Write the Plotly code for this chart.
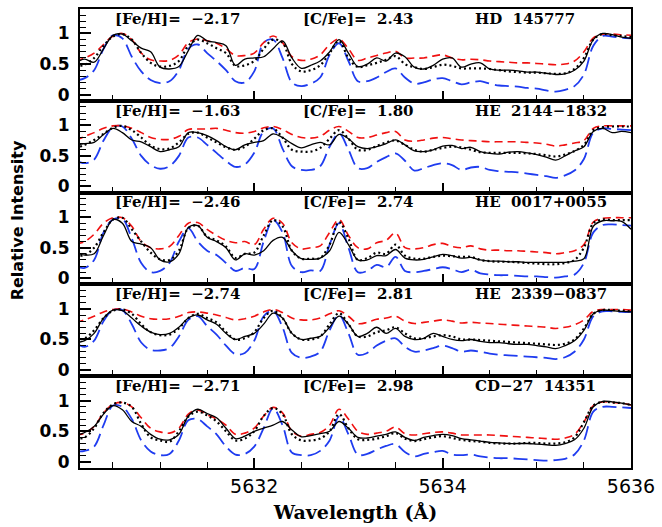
import plotly.graph_objects as go
from plotly.subplots import make_subplots

wavelength = [5630.1, 5630.2, 5630.3, 5630.4, 5630.5, 5630.6, 5630.7, 5630.8, 5630.9, 5631.0,
              5631.1, 5631.2, 5631.3, 5631.4, 5631.5, 5631.6, 5631.7, 5631.8, 5631.9, 5632.0,
              5632.1, 5632.2, 5632.3, 5632.4, 5632.5, 5632.6, 5632.7, 5632.8, 5632.9, 5633.0,
              5633.1, 5633.2, 5633.3, 5633.4, 5633.5, 5633.6, 5633.7, 5633.8, 5633.9, 5634.0,
              5634.1, 5634.2, 5634.3, 5634.4, 5634.5, 5634.6, 5634.7, 5634.8, 5634.9, 5635.0,
              5635.1, 5635.2, 5635.3, 5635.4, 5635.5, 5635.6, 5635.7, 5635.8, 5635.9, 5636.0]

stars = ["HD 145777", "HE 2144\u22121832", "HE 0017+0055", "HE 2339\u22120837", "CD\u221227 14351"]
feh = ["\u22122.17", "\u22121.63", "\u22122.46", "\u22122.74", "\u22122.71"]
cfe = ["2.43", "1.80", "2.74", "2.81", "2.98"]

# ---- HD 145777 ----
hd145777_obs = [0.52, 0.58, 0.53, 0.75, 0.97, 0.99, 0.88, 0.76, 0.70, 0.45,
                0.42, 0.46, 0.72, 0.97, 0.88, 0.85, 0.80, 0.48, 0.58, 0.60,
                0.62, 0.75, 0.88, 0.60, 0.43, 0.48, 0.55, 0.70, 0.90, 0.68,
                0.46, 0.50, 0.60, 0.55, 0.68, 0.62, 0.45, 0.42, 0.48, 0.58,
                0.60, 0.45, 0.50, 0.52, 0.42, 0.40, 0.40, 0.39, 0.37, 0.37,
                0.35, 0.33, 0.34, 0.40, 0.55, 0.90, 1.00, 0.98, 0.94, 0.92]
hd145777_dot = [0.47, 0.49, 0.60, 0.80, 0.95, 0.99, 0.90, 0.68, 0.52, 0.46,
                0.47, 0.55, 0.80, 0.90, 0.84, 0.76, 0.68, 0.47, 0.48, 0.55,
                0.75, 0.90, 0.85, 0.50, 0.38, 0.40, 0.48, 0.68, 0.88, 0.60,
                0.45, 0.48, 0.52, 0.57, 0.63, 0.50, 0.45, 0.42, 0.45, 0.49,
                0.47, 0.43, 0.43, 0.43, 0.42, 0.40, 0.38, 0.37, 0.36, 0.36,
                0.35, 0.34, 0.35, 0.42, 0.60, 0.90, 0.99, 0.97, 0.96, 0.94]
hd145777_red = [0.55, 0.60, 0.68, 0.82, 0.96, 1.00, 0.90, 0.68, 0.57, 0.55,
                0.56, 0.65, 0.85, 0.91, 0.88, 0.84, 0.75, 0.64, 0.64, 0.68,
                0.85, 0.96, 0.85, 0.62, 0.56, 0.58, 0.65, 0.82, 0.91, 0.75,
                0.56, 0.60, 0.64, 0.68, 0.71, 0.60, 0.60, 0.60, 0.63, 0.65,
                0.60, 0.57, 0.58, 0.57, 0.55, 0.54, 0.53, 0.52, 0.52, 0.51,
                0.50, 0.49, 0.50, 0.55, 0.70, 0.93, 0.99, 0.99, 0.98, 0.97]
hd145777_blue = [0.23, 0.27, 0.40, 0.75, 0.97, 0.92, 0.62, 0.38, 0.24, 0.19,
                 0.22, 0.40, 0.75, 0.82, 0.68, 0.55, 0.40, 0.22, 0.20, 0.38,
                 0.85, 0.90, 0.60, 0.20, 0.14, 0.18, 0.28, 0.65, 0.84, 0.55,
                 0.22, 0.22, 0.28, 0.37, 0.43, 0.28, 0.18, 0.20, 0.25, 0.27,
                 0.22, 0.17, 0.20, 0.22, 0.18, 0.15, 0.14, 0.13, 0.11, 0.10,
                 0.07, 0.05, 0.08, 0.14, 0.33, 0.80, 0.96, 0.95, 0.93, 0.92]

# ---- HE 2144-1832 ----
he2144_obs = [0.68, 0.70, 0.72, 0.85, 0.95, 0.88, 0.76, 0.73, 0.65, 0.57,
              0.60, 0.65, 0.88, 0.88, 0.83, 0.75, 0.65, 0.60, 0.68, 0.72,
              0.75, 0.86, 0.80, 0.70, 0.63, 0.68, 0.72, 0.68, 0.85, 0.78,
              0.65, 0.62, 0.65, 0.70, 0.76, 0.68, 0.58, 0.57, 0.60, 0.66,
              0.67, 0.62, 0.64, 0.57, 0.54, 0.53, 0.56, 0.57, 0.55, 0.52,
              0.48, 0.43, 0.50, 0.58, 0.65, 0.90, 0.95, 0.88, 0.90, 0.88]
he2144_dot = [0.62, 0.68, 0.76, 0.86, 0.96, 0.99, 0.92, 0.80, 0.67, 0.61,
              0.62, 0.72, 0.86, 0.88, 0.80, 0.72, 0.64, 0.60, 0.65, 0.78,
              0.92, 0.95, 0.80, 0.60, 0.57, 0.57, 0.63, 0.78, 0.92, 0.78,
              0.60, 0.60, 0.66, 0.72, 0.75, 0.68, 0.60, 0.57, 0.60, 0.63,
              0.65, 0.64, 0.60, 0.56, 0.55, 0.55, 0.55, 0.55, 0.54, 0.53,
              0.51, 0.49, 0.52, 0.58, 0.68, 0.92, 0.97, 0.98, 0.98, 0.98]
he2144_red = [0.75, 0.82, 0.88, 0.95, 0.99, 0.99, 0.95, 0.88, 0.80, 0.77,
              0.77, 0.82, 0.93, 0.94, 0.94, 0.95, 0.92, 0.88, 0.87, 0.90,
              0.96, 0.98, 0.93, 0.85, 0.80, 0.79, 0.82, 0.92, 0.98, 0.90,
              0.80, 0.80, 0.84, 0.88, 0.90, 0.76, 0.74, 0.76, 0.79, 0.80,
              0.78, 0.76, 0.75, 0.74, 0.73, 0.73, 0.73, 0.73, 0.72, 0.71,
              0.69, 0.66, 0.68, 0.71, 0.75, 0.95, 0.99, 0.99, 0.99, 0.99]
he2144_blue = [0.43, 0.38, 0.44, 0.75, 0.97, 0.98, 0.78, 0.50, 0.35, 0.29,
               0.33, 0.50, 0.80, 0.80, 0.68, 0.55, 0.42, 0.32, 0.36, 0.55,
               0.90, 0.95, 0.62, 0.33, 0.27, 0.27, 0.33, 0.65, 0.87, 0.60,
               0.30, 0.30, 0.40, 0.48, 0.54, 0.42, 0.26, 0.30, 0.35, 0.38,
               0.35, 0.27, 0.31, 0.32, 0.27, 0.25, 0.24, 0.23, 0.21, 0.19,
               0.17, 0.14, 0.18, 0.26, 0.45, 0.88, 0.95, 0.94, 0.93, 0.92]

# ---- HE 0017+0055 ----
he0017_obs = [0.42, 0.38, 0.40, 0.70, 0.96, 0.90, 0.60, 0.56, 0.50, 0.30,
              0.27, 0.40, 0.83, 0.86, 0.67, 0.60, 0.50, 0.30, 0.40, 0.38,
              0.45, 0.62, 0.67, 0.45, 0.32, 0.31, 0.33, 0.45, 0.75, 0.55,
              0.30, 0.30, 0.37, 0.37, 0.47, 0.33, 0.30, 0.31, 0.35, 0.39,
              0.37, 0.33, 0.34, 0.30, 0.28, 0.28, 0.27, 0.27, 0.26, 0.26,
              0.26, 0.26, 0.26, 0.28, 0.32, 0.85, 0.94, 0.94, 0.93, 0.80]
he0017_dot = [0.37, 0.38, 0.50, 0.75, 0.96, 0.99, 0.80, 0.60, 0.42, 0.31,
              0.30, 0.45, 0.82, 0.86, 0.68, 0.62, 0.52, 0.33, 0.40, 0.42,
              0.70, 0.95, 0.85, 0.45, 0.32, 0.32, 0.33, 0.55, 0.92, 0.65,
              0.30, 0.33, 0.42, 0.40, 0.55, 0.37, 0.32, 0.32, 0.35, 0.37,
              0.36, 0.35, 0.35, 0.30, 0.28, 0.27, 0.27, 0.26, 0.25, 0.24,
              0.23, 0.23, 0.25, 0.30, 0.50, 0.90, 0.96, 0.95, 0.95, 0.95]
he0017_red = [0.56, 0.60, 0.72, 0.90, 0.99, 0.99, 0.85, 0.60, 0.50, 0.48,
              0.52, 0.70, 0.90, 0.91, 0.80, 0.70, 0.62, 0.58, 0.60, 0.55,
              0.80, 0.98, 0.90, 0.58, 0.48, 0.50, 0.53, 0.75, 0.96, 0.70,
              0.50, 0.48, 0.58, 0.62, 0.74, 0.50, 0.48, 0.50, 0.55, 0.57,
              0.52, 0.50, 0.53, 0.48, 0.46, 0.46, 0.45, 0.45, 0.44, 0.43,
              0.42, 0.40, 0.42, 0.45, 0.55, 0.92, 0.98, 0.99, 0.99, 0.99]
he0017_blue = [0.20, 0.17, 0.30, 0.75, 0.96, 0.97, 0.65, 0.25, 0.10, 0.12,
               0.25, 0.60, 0.82, 0.60, 0.45, 0.38, 0.25, 0.12, 0.17, 0.15,
               0.60, 0.95, 0.75, 0.20, 0.10, 0.13, 0.12, 0.55, 0.90, 0.50,
               0.10, 0.12, 0.22, 0.18, 0.35, 0.12, 0.10, 0.12, 0.15, 0.18,
               0.15, 0.10, 0.14, 0.08, 0.06, 0.05, 0.05, 0.04, 0.03, 0.03,
               0.02, 0.01, 0.03, 0.06, 0.25, 0.75, 0.87, 0.88, 0.87, 0.86]

# ---- HE 2339-0837 ----
he2339_obs = [0.45, 0.48, 0.60, 0.85, 0.98, 0.97, 0.85, 0.72, 0.62, 0.58,
              0.60, 0.70, 0.85, 0.90, 0.82, 0.75, 0.60, 0.50, 0.55, 0.60,
              0.75, 0.93, 0.85, 0.60, 0.50, 0.52, 0.55, 0.70, 0.88, 0.75,
              0.55, 0.60, 0.70, 0.60, 0.68, 0.55, 0.50, 0.52, 0.60, 0.55,
              0.50, 0.48, 0.50, 0.47, 0.45, 0.45, 0.43, 0.42, 0.42, 0.40,
              0.38, 0.35, 0.40, 0.48, 0.65, 0.92, 0.98, 0.97, 0.96, 0.95]
he2339_dot = [0.50, 0.52, 0.65, 0.85, 0.97, 0.99, 0.92, 0.75, 0.62, 0.57,
              0.58, 0.68, 0.85, 0.92, 0.85, 0.78, 0.62, 0.50, 0.52, 0.62,
              0.85, 0.97, 0.85, 0.60, 0.50, 0.50, 0.55, 0.75, 0.93, 0.75,
              0.55, 0.55, 0.62, 0.65, 0.70, 0.60, 0.52, 0.52, 0.55, 0.57,
              0.55, 0.50, 0.50, 0.49, 0.48, 0.47, 0.46, 0.45, 0.44, 0.43,
              0.42, 0.41, 0.43, 0.50, 0.68, 0.92, 0.98, 0.98, 0.97, 0.96]
he2339_red = [0.78, 0.82, 0.88, 0.95, 0.99, 1.00, 0.95, 0.88, 0.84, 0.83,
              0.84, 0.88, 0.94, 0.95, 0.93, 0.90, 0.86, 0.82, 0.84, 0.88,
              0.95, 0.99, 0.94, 0.85, 0.82, 0.82, 0.85, 0.92, 0.97, 0.88,
              0.76, 0.78, 0.83, 0.85, 0.88, 0.80, 0.76, 0.78, 0.80, 0.82,
              0.80, 0.77, 0.78, 0.77, 0.76, 0.75, 0.74, 0.73, 0.72, 0.71,
              0.70, 0.68, 0.70, 0.74, 0.82, 0.96, 0.99, 0.99, 0.99, 0.98]
he2339_blue = [0.45, 0.38, 0.48, 0.80, 0.98, 0.98, 0.75, 0.45, 0.33, 0.32,
               0.36, 0.55, 0.82, 0.88, 0.72, 0.58, 0.40, 0.26, 0.28, 0.48,
               0.88, 0.97, 0.70, 0.28, 0.20, 0.22, 0.30, 0.65, 0.90, 0.60,
               0.25, 0.28, 0.40, 0.48, 0.52, 0.38, 0.30, 0.32, 0.36, 0.40,
               0.36, 0.30, 0.32, 0.30, 0.27, 0.25, 0.24, 0.23, 0.22, 0.21,
               0.20, 0.18, 0.21, 0.30, 0.50, 0.88, 0.96, 0.96, 0.95, 0.95]

# ---- CD-27 14351 ----
cd27_obs = [0.43, 0.48, 0.58, 0.78, 0.92, 0.85, 0.66, 0.58, 0.45, 0.37,
            0.36, 0.45, 0.75, 0.86, 0.79, 0.72, 0.55, 0.38, 0.42, 0.50,
            0.55, 0.60, 0.66, 0.52, 0.41, 0.43, 0.46, 0.50, 0.66, 0.55,
            0.40, 0.39, 0.42, 0.45, 0.49, 0.40, 0.35, 0.40, 0.43, 0.45,
            0.43, 0.38, 0.36, 0.34, 0.32, 0.31, 0.30, 0.30, 0.30, 0.29,
            0.28, 0.27, 0.30, 0.36, 0.55, 0.90, 0.99, 0.98, 0.96, 0.93]
cd27_dot = [0.38, 0.40, 0.55, 0.80, 0.94, 0.97, 0.90, 0.62, 0.40, 0.35,
            0.33, 0.50, 0.74, 0.82, 0.76, 0.66, 0.50, 0.35, 0.38, 0.50,
            0.75, 0.88, 0.78, 0.45, 0.35, 0.35, 0.38, 0.50, 0.78, 0.55,
            0.37, 0.36, 0.38, 0.42, 0.47, 0.38, 0.34, 0.37, 0.40, 0.42,
            0.39, 0.36, 0.34, 0.33, 0.31, 0.30, 0.30, 0.30, 0.31, 0.31,
            0.30, 0.30, 0.32, 0.40, 0.65, 0.92, 0.98, 0.97, 0.96, 0.93]
cd27_red = [0.44, 0.47, 0.58, 0.80, 0.94, 0.97, 0.90, 0.72, 0.55, 0.49,
            0.47, 0.55, 0.78, 0.85, 0.77, 0.70, 0.60, 0.45, 0.47, 0.55,
            0.75, 0.89, 0.80, 0.50, 0.42, 0.45, 0.48, 0.60, 0.86, 0.70,
            0.50, 0.45, 0.47, 0.50, 0.57, 0.46, 0.44, 0.46, 0.48, 0.49,
            0.47, 0.44, 0.44, 0.44, 0.44, 0.43, 0.42, 0.41, 0.40, 0.39,
            0.38, 0.37, 0.39, 0.45, 0.65, 0.92, 0.98, 0.97, 0.96, 0.93]
cd27_blue = [0.17, 0.18, 0.25, 0.60, 0.92, 0.90, 0.70, 0.35, 0.17, 0.11,
             0.13, 0.35, 0.68, 0.70, 0.58, 0.45, 0.25, 0.12, 0.13, 0.25,
             0.55, 0.88, 0.60, 0.15, 0.11, 0.11, 0.18, 0.35, 0.74, 0.45,
             0.12, 0.13, 0.20, 0.26, 0.29, 0.16, 0.09, 0.13, 0.16, 0.18,
             0.12, 0.11, 0.12, 0.09, 0.07, 0.06, 0.06, 0.05, 0.04, 0.03,
             0.02, 0.03, 0.05, 0.12, 0.35, 0.82, 0.90, 0.90, 0.89, 0.88]

panels = [
    (hd145777_obs, hd145777_dot, hd145777_red, hd145777_blue),
    (he2144_obs, he2144_dot, he2144_red, he2144_blue),
    (he0017_obs, he0017_dot, he0017_red, he0017_blue),
    (he2339_obs, he2339_dot, he2339_red, he2339_blue),
    (cd27_obs, cd27_dot, cd27_red, cd27_blue),
]

fig = make_subplots(rows=5, cols=1, shared_xaxes=True, vertical_spacing=0)

for i, (obs, dot, red, blue) in enumerate(panels):
    r = i + 1
    fig.add_trace(go.Scatter(x=wavelength, y=blue, mode="lines", line_shape="spline",
                             line=dict(color="#1f3cf0", width=1.8, dash="14px,6px")),
                  row=r, col=1)
    fig.add_trace(go.Scatter(x=wavelength, y=red, mode="lines", line_shape="spline",
                             line=dict(color="#f01010", width=1.6, dash="8px,5px")),
                  row=r, col=1)
    fig.add_trace(go.Scatter(x=wavelength, y=dot, mode="lines", line_shape="spline",
                             line=dict(color="black", width=2.2, dash="2px,3px")),
                  row=r, col=1)
    fig.add_trace(go.Scatter(x=wavelength, y=obs, mode="lines", line_shape="spline",
                             line=dict(color="black", width=1.3)),
                  row=r, col=1)

    xr = "x" if r == 1 else f"x{r}"
    yr = "y" if r == 1 else f"y{r}"
    afont = dict(family="DejaVu Serif", size=15, color="black", weight="bold")
    fig.add_annotation(x=5630.50, y=1.24, xref=xr, yref=yr, xanchor="left", yanchor="middle",
                       text=f"[Fe/H]=\u00a0\u00a0{feh[i]}", showarrow=False, font=afont)
    fig.add_annotation(x=5632.50, y=1.24, xref=xr, yref=yr, xanchor="left", yanchor="middle",
                       text=f"[C/Fe]=\u00a0\u00a0{cfe[i]}", showarrow=False, font=afont)
    fig.add_annotation(x=5634.32, y=1.24, xref=xr, yref=yr, xanchor="left", yanchor="middle",
                       text=stars[i].replace(" ", "\u00a0\u00a0"), showarrow=False, font=afont)

    fig.update_yaxes(row=r, col=1, range=[-0.1, 1.4], tickmode="array", tickvals=[0, 0.5, 1],
                     ticktext=["0", "0.5", "1"], ticks="inside", ticklen=11, tickwidth=1.5,
                     tickcolor="black", showline=True, linecolor="black", linewidth=2.2,
                     mirror=True, showgrid=False, zeroline=False,
                     tickfont=dict(family="DejaVu Sans", size=17, color="black", weight="bold"),
                     ticklabelstandoff=5,
                     minor=dict(tickmode="array",
                                tickvals=[-0.1, 0.1, 0.2, 0.3, 0.4, 0.6, 0.7, 0.8, 0.9, 1.1, 1.2, 1.3],
                                ticks="inside", ticklen=6, tickwidth=1.2, tickcolor="black",
                                showgrid=False))
    fig.update_xaxes(row=r, col=1, range=[5630.15, 5636], tickmode="array",
                     tickvals=[5632, 5634, 5636], ticks="inside", ticklen=10, tickwidth=1.5,
                     tickcolor="black", showline=True, linecolor="black", linewidth=2.2,
                     mirror=True, showgrid=False, zeroline=False,
                     showticklabels=(r == 5),
                     tickfont=dict(family="DejaVu Sans", size=19, color="black"),
                     ticklabelstandoff=0,
                     minor=dict(tickmode="array",
                                tickvals=[5630.5, 5631, 5631.5, 5632.5, 5633, 5633.5,
                                          5634.5, 5635, 5635.5],
                                ticks="inside", ticklen=6, tickwidth=1.2, tickcolor="black",
                                showgrid=False))

fig.update_xaxes(row=5, col=1, title=dict(text="Wavelength (\u00c5)", standoff=10,
                 font=dict(family="DejaVu Serif", size=19, color="black", weight="bold")))

fig.add_annotation(x=-0.114, y=0.54, xref="paper", yref="paper", text="Relative Intensity",
                   textangle=-90, showarrow=False, xanchor="center", yanchor="middle",
                   font=dict(family="DejaVu Sans", size=16, color="black", weight="bold"))

fig.update_layout(width=662, height=527, margin=dict(l=80, r=30, t=7, b=59),
                  showlegend=False, plot_bgcolor="white", paper_bgcolor="white")

fig.write_html("out.html")
